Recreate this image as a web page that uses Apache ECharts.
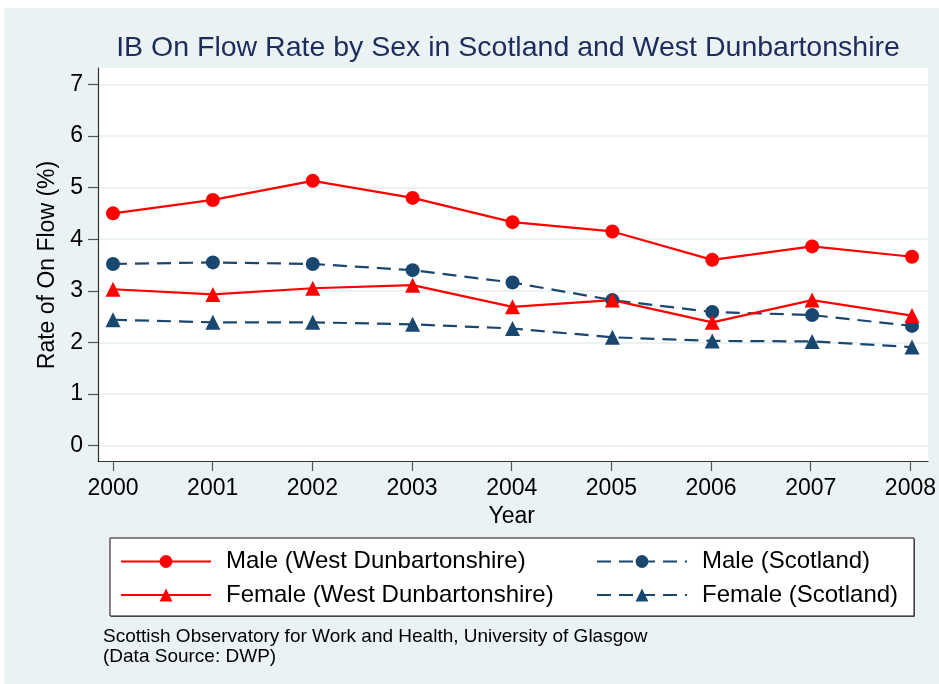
<!DOCTYPE html>
<html>
<head>
<meta charset="utf-8">
<script src="https://cdn.jsdelivr.net/npm/echarts@6/dist/echarts.min.js"></script>
<style>
  html, body { margin: 0; padding: 0; background: #fff; }
  #chart { width: 939px; height: 684px; }
</style>
</head>
<body>
<div id="chart"></div>
<script>
// data
const years = ['2000', '2001', '2002', '2003', '2004', '2005', '2006', '2007', '2008'];
const maleWD = [4.50, 4.76, 5.13, 4.80, 4.33, 4.15, 3.60, 3.86, 3.66];
const femaleWD = [3.03, 2.93, 3.05, 3.11, 2.69, 2.82, 2.39, 2.82, 2.52];
const maleScot = [3.52, 3.55, 3.52, 3.40, 3.16, 2.82, 2.59, 2.53, 2.32];
const femaleScot = [2.44, 2.39, 2.39, 2.35, 2.27, 2.10, 2.03, 2.02, 1.91];
const yTicks = { min: 0, max: 7, step: 1 };

const names = {
  maleWD: 'Male (West Dunbartonshire)',
  femaleWD: 'Female (West Dunbartonshire)',
  maleScot: 'Male (Scotland)',
  femaleScot: 'Female (Scotland)'
};

const FONT = "'Liberation Sans', Arial, sans-serif";
const RED = '#ff0000';
const NAVY = '#1a476f';
const BG = '#eaf2f3';

const chart = echarts.init(document.getElementById('chart'), null, { renderer: 'canvas' });

function lineSeries(name, data, color, symbol, dashed) {
  return {
    name: name,
    type: 'line',
    xAxisIndex: 2,
    yAxisIndex: 2,
    data: data,
    symbol: symbol,
    symbolSize: symbol === 'triangle' ? 15 : 14,
    showSymbol: true,
    animation: false,
    itemStyle: { color: color },
    lineStyle: { color: color, width: 2.2, type: dashed ? [14, 8] : 'solid' },
    emphasis: { disabled: true }
  };
}

const legendText = { fontFamily: FONT, fontSize: 24, color: '#000', lineHeight: 24, padding: [0, 0, 0, 10] };

chart.setOption({
  backgroundColor: '#fff',
  textStyle: { fontFamily: FONT },
  animation: false,
  grid: [
    // plot region frame
    { left: 98, top: 68, right: 11, bottom: 223, show: true, backgroundColor: '#fff', borderWidth: 0 },
    // y gridlines + y ticks
    { left: 98, top: 84.3, right: 11, bottom: 238.3 },
    // data area
    { left: 113, top: 84.3, right: 27, bottom: 238.3 },
    // x ticks along the bottom of the plot region
    { left: 113, top: 68, right: 27, bottom: 223 }
  ],
  xAxis: [
    { gridIndex: 0, type: 'value', min: 0, max: 1, axisLine: { show: true, lineStyle: { color: '#333', width: 1.2 } },
      axisTick: { show: false }, axisLabel: { show: false }, splitLine: { show: false } },
    { gridIndex: 1, type: 'value', min: 0, max: 1, show: false },
    { gridIndex: 2, type: 'category', data: years, boundaryGap: false, show: false },
    { gridIndex: 3, type: 'category', data: years, boundaryGap: false,
      axisLine: { show: false },
      axisTick: { show: true, length: 10, lineStyle: { color: '#555', width: 1.2 } },
      axisLabel: { margin: 16, fontSize: 23, color: '#000', fontFamily: FONT },
      name: 'Year', nameLocation: 'middle', nameGap: 40,
      nameTextStyle: { fontSize: 23, color: '#000', fontFamily: FONT },
      splitLine: { show: false } }
  ],
  yAxis: [
    { gridIndex: 0, type: 'value', min: 0, max: 1, axisLine: { show: true, lineStyle: { color: '#333', width: 1.2 } },
      axisTick: { show: false }, axisLabel: { show: false }, splitLine: { show: false } },
    { gridIndex: 1, type: 'value', min: yTicks.min, max: yTicks.max, interval: yTicks.step,
      axisLine: { show: false },
      axisTick: { show: true, length: 10, lineStyle: { color: '#555', width: 1.2 } },
      axisLabel: { margin: 15, fontSize: 23, color: '#000', fontFamily: FONT },
      splitLine: { show: true, lineStyle: { color: BG, width: 2 } },
      name: 'Rate of On Flow (%)', nameLocation: 'middle', nameGap: 38,
      nameTextStyle: { fontSize: 23, color: '#000', fontFamily: FONT } },
    { gridIndex: 2, type: 'value', min: yTicks.min, max: yTicks.max, show: false },
    { gridIndex: 3, type: 'value', min: 0, max: 1, show: false }
  ],
  legend: [
    { data: [names.maleWD, names.femaleWD], orient: 'vertical', left: 120, top: 549.5, padding: 0,
      itemWidth: 90, itemHeight: 16, itemGap: 9.5, textStyle: legendText, selectedMode: false },
    { data: [names.maleScot, names.femaleScot], orient: 'vertical', left: 596, top: 549.5, padding: 0,
      itemWidth: 90, itemHeight: 16, itemGap: 9.5, textStyle: legendText, selectedMode: false }
  ],
  graphic: [
    { type: 'rect', z: -10, silent: true, shape: { x: 4, y: 8, width: 935, height: 676 }, style: { fill: BG } },
    { type: 'rect', z: 1, silent: true, shape: { x: 111, y: 539, width: 804, height: 78 }, style: { fill: '#7a7a7a' } },
    { type: 'rect', z: 2, silent: true, shape: { x: 110, y: 538, width: 804, height: 78 },
      style: { fill: '#fff', stroke: '#111', lineWidth: 1 } },
    { type: 'text', z: 5, silent: true, style: { x: 508, y: 48, text: 'IB On Flow Rate by Sex in Scotland and West Dunbartonshire',
      fill: '#1c2c5c', font: '28.5px ' + FONT, textAlign: 'center', textVerticalAlign: 'middle' } },
    { type: 'text', z: 5, silent: true, style: { x: 103, y: 627,
      text: 'Scottish Observatory for Work and Health, University of Glasgow\n(Data Source: DWP)',
      fill: '#000', font: '19px ' + FONT, lineHeight: 20, textAlign: 'left', textVerticalAlign: 'top' } }
  ],
  series: [
    lineSeries(names.maleScot, maleScot, NAVY, 'circle', true),
    lineSeries(names.femaleScot, femaleScot, NAVY, 'triangle', true),
    lineSeries(names.maleWD, maleWD, RED, 'circle', false),
    lineSeries(names.femaleWD, femaleWD, RED, 'triangle', false)
  ]
});
</script>
</body>
</html>
